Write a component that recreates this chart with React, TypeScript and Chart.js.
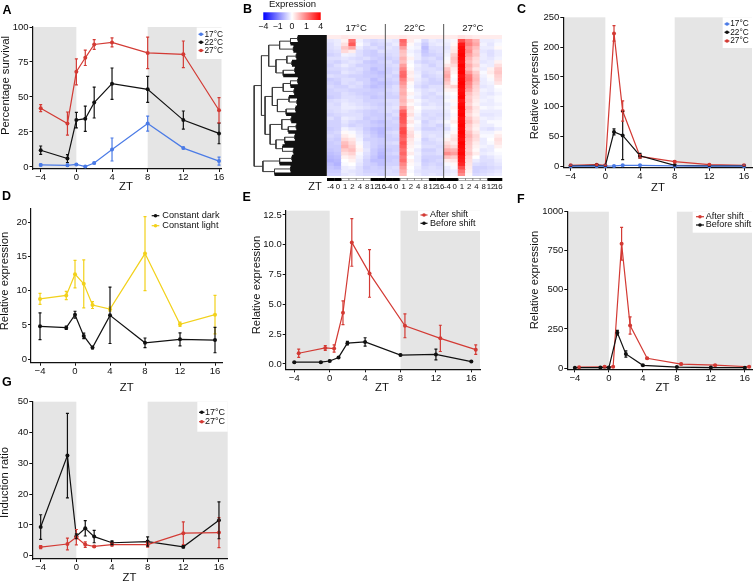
import React, { useEffect, useRef } from "react";
import { Chart, registerables } from "chart.js";
Chart.register(...registerables);

const FONT = "'Liberation Sans', Arial, Helvetica, sans-serif";
Chart.defaults.font.family = FONT;
const RED = "#d33a34";
const BLUE = "#4b7be6";
const BLACK = "#111111";
const YELLOW = "#f2d11b";
const SHADE = "#e5e5e5";

// ---------- shared x values ----------
const ztPoints = [-4, -1, 0, 1, 2, 4, 8, 12, 16];
const ztShifted = [-3.5, -0.5, 0.5, 1.5, 2.5, 4.5, 8.5, 12.5, 16.5];
const xTickValues = [-4, 0, 4, 8, 12, 16];

// ---------- Panel A: percentage survival ----------
const survival17 = [1.5, 1.2, 1.8, 0.3, 2.8, 12.5, 31, 13.5, 4.2];
const survival17Err = [0.8, 0.8, 0.6, 0.4, 0.5, 8.2, 5.4, 0.6, 2.8];
const survival22 = [12, 6, 33.5, 34.5, 46, 59.5, 55.5, 33.5, 24];
const survival22Err = [3, 2.8, 5.5, 9, 11, 11.2, 9.3, 6.5, 7.4];
const survival27 = [42, 31, 68, 78, 87.5, 89, 81.5, 80.5, 40.5];
const survival27Err = [2.5, 8.3, 9.3, 5.5, 3.5, 3.2, 11.3, 9.5, 9];

// ---------- Panel C: relative expression by temperature ----------
const expr17 = [0.5, 0.5, 0.5, 1, 2, 2, 1, 0.5, 0.5];
const expr17Err = [0.3, 0.3, 0.3, 0.5, 0.8, 0.8, 0.5, 0.3, 0.3];
const expr22 = [1, 2, 1, 58, 52, 18, 2, 1, 1];
const expr22Err = [0.5, 1, 0.5, 5, 40.5, 4, 1, 0.5, 0.5];
const expr27 = [2, 3, 2, 223, 93, 17, 8, 3, 2];
const expr27Err = [0.5, 1, 0.5, 13, 17, 3, 2, 1, 0.5];

// ---------- Panel D: constant dark / light ----------
const constDark = [4.8, 4.6, 6.5, 3.4, 1.7, 6.4, 2.4, 2.9, 2.8];
const constDarkErr = [1.95, 0.25, 0.5, 0.4, 0.2, 4.1, 0.7, 0.95, 1.85];
const constLight = [8.8, 9.3, 12.4, 11.0, 7.9, 7.3, 15.4, 5.1, 6.5];
const constLightErr = [0.8, 0.6, 2.0, 3.5, 0.5, 0.3, 5.4, 0.3, 2.8];

// ---------- Panel E: after / before shift ----------
const eAfter = [0.9, 1.35, 1.3, 4.3, 10.2, 7.6, 3.2, 2.15, 1.2];
const eAfterErr = [0.35, 0.2, 0.3, 1.0, 2.0, 2.0, 1.0, 1.1, 0.4];
const eBefore = [0.15, 0.15, 0.25, 0.55, 1.75, 1.85, 0.75, 0.8, 0.2];
const eBeforeErr = [0.05, 0.05, 0.05, 0.05, 0.15, 0.35, 0.05, 0.45, 0.05];

// ---------- Panel F: after / before shift ----------
const fAfter = [5, 8, 8, 795, 272, 62, 25, 18, 8];
const fAfterErr = [2, 3, 3, 105, 55, 5, 5, 3, 2];
const fBefore = [2, 3, 3, 226, 90, 17, 6, 3, 2];
const fBeforeErr = [1, 1, 1, 15, 20, 3, 2, 1, 1];

// ---------- Panel G: induction ratio ----------
const induction17 = [9.3, 32.5, 6.3, 8.9, 6.2, 4.2, 4.6, 2.9, 11.5];
const induction17Err = [4, 13.7, 0.8, 2.5, 2.0, 0.6, 1.5, 0.4, 6];
const induction27 = [2.8, 3.8, 6.0, 3.6, 3.0, 3.6, 3.6, 7.3, 7.5];
const induction27Err = [0.5, 1.9, 2.5, 0.9, 0.3, 0.5, 0.8, 3.7, 4.9];

// ---------- Panel B: heatmap ----------
const heatTemps = ["17°C", "22°C", "27°C"];
const heatZt = ["-4", "0", "1", "2", "4", "8", "12", "16"];
const heatZtValues = [-4, 0, 1, 2, 4, 8, 12, 16];
const colorKeyLabels = ["−4", "−1", "0", "1", "4"];
const heatRows = [
  [0.3,0.3,0.4,0.3,0.3,0.3,0.3,0.3, 0.3,0.3,0.4,0.3,0.3,0.3,0.3,0.3, 0.3,0.3,0.5,0.4,0.3,0.3,0.3,0.3],
  [-0.4,-0.3,0.2,2.2,-0.2,-0.5,-0.6,-0.5, -0.3,-0.4,2.4,0.3,-0.1,-0.6,-0.3,-0.4, -0.2,-0.1,2.8,1.8,1.2,-0.3,-0.3,-0.2],
  [-0.5,-0.3,0.5,2.6,-0.1,-0.4,-0.7,-0.6, -0.5,-0.3,2.2,0.1,-0.3,-0.8,-0.4,-0.3, -0.3,0.1,3.6,2.0,1.4,-0.2,-0.4,-0.1],
  [-0.5,-0.4,0.9,1.4,-0.3,-0.6,-0.5,-0.7, -0.4,-0.5,1.5,-0.1,-0.2,-1.0,-0.5,-0.5, -0.4,0.3,3.8,1.6,1.0,-0.3,-0.3,0.1],
  [-0.6,-0.5,0.6,0.3,-0.5,-0.7,-0.8,-0.5, -0.5,-0.5,1.0,-0.2,-0.4,-0.9,-0.6,-0.5, -0.3,0.4,3.9,1.8,0.8,-0.4,-0.5,-0.3],
  [-0.7,-0.6,-0.2,-0.3,-0.5,-0.7,-0.8,-0.7, -0.6,-0.5,0.9,-0.1,-0.3,-0.8,-0.7,-0.6, -0.2,0.8,4.0,1.5,0.9,-0.3,-0.5,-0.3],
  [-0.5,-0.5,-0.4,-0.5,-0.6,-0.5,-0.7,-0.8, -0.7,-0.6,1.2,0.2,-0.3,-0.6,-0.5,-0.7, -0.1,1.0,3.9,1.2,0.6,-0.3,-0.4,-0.2],
  [-0.6,-0.7,-0.5,-0.4,-0.5,-0.8,-0.9,-0.7, -0.5,-0.7,1.0,-0.1,-0.5,-0.7,-0.6,-0.5, 0.1,0.9,3.8,1.0,0.5,-0.4,-0.3,0.2],
  [-0.7,-0.5,-0.3,-0.5,-0.7,-0.7,-0.8,-0.8, -0.6,-0.5,1.5,0.0,-0.3,-0.5,-0.7,-0.5, 0.4,0.6,4.0,1.3,0.7,-0.2,-0.3,0.5],
  [-0.6,-0.6,-0.5,-0.6,-0.5,-0.7,-1.0,-0.8, -0.7,-0.6,1.9,0.1,-0.4,-0.5,-0.5,-0.6, 0.9,0.3,3.9,1.1,0.4,-0.3,0.2,0.8],
  [-0.7,-0.7,-0.4,-0.5,-0.6,-0.8,-0.9,-1.0, -0.7,-0.5,2.3,0.3,-0.3,-0.6,-0.5,-0.4, 1.2,0.2,4.0,1.6,0.8,-0.1,0.3,0.9],
  [-0.5,-0.6,-0.6,-0.7,-0.7,-0.8,-0.8,-0.9, -0.6,-0.7,2.4,0.2,-0.2,-0.7,-0.6,-0.5, 1.4,0.0,3.8,2.1,1.0,-0.2,0.1,0.7],
  [-0.8,-0.7,-0.5,-0.5,-0.7,-0.7,-1.0,-0.8, -0.7,-0.6,2.0,0.4,-0.3,-0.5,-0.7,-0.6, 1.1,-0.1,3.9,2.2,1.1,-0.3,-0.1,0.6],
  [-0.7,-0.8,-0.5,-0.6,-0.5,-0.7,-0.9,-1.0, -0.8,-0.7,1.7,0.1,-0.4,-0.6,-0.7,-0.7, 0.8,0.1,4.0,1.9,0.9,-0.3,-0.2,0.4],
  [-0.6,-0.7,-0.7,-0.5,-0.6,-0.8,-1.0,-0.9, -0.7,-0.5,1.4,-0.1,-0.5,-0.7,-0.5,-0.5, 0.5,0.7,3.9,1.7,0.7,-0.4,-0.3,0.0],
  [-0.7,-0.6,-0.6,-0.7,-0.7,-0.7,-0.8,-0.8, -0.6,-0.5,1.2,0.0,-0.3,-0.5,-0.4,-0.5, 0.2,0.2,3.8,1.4,0.6,-0.2,-0.3,-0.1],
  [-0.7,-0.7,-0.5,-0.6,-0.7,-0.8,-0.8,-0.7, -0.7,-0.6,1.3,0.2,-0.2,-0.5,-0.6,-0.4, -0.1,0.0,3.9,1.0,0.5,-0.3,-0.4,-0.2],
  [-0.8,-0.7,-0.5,-0.5,-0.6,-0.7,-0.9,-0.8, -0.7,-0.7,1.1,-0.1,-0.3,-0.6,-0.5,-0.6, -0.2,-0.1,4.0,0.8,0.4,-0.3,-0.2,-0.1],
  [-0.6,-0.5,-0.4,-0.5,-0.5,-0.7,-0.7,-0.7, -0.5,-0.5,1.2,0.3,-0.1,-0.4,-0.5,-0.5, -0.1,0.1,3.7,0.9,0.3,-0.2,-0.3,-0.1],
  [-0.5,-0.6,-0.3,-0.4,-0.5,-0.6,-0.7,-0.8, -0.6,-0.5,1.0,0.1,-0.2,-0.5,-0.4,-0.5, -0.3,-0.1,3.9,0.7,0.2,-0.3,-0.3,-0.2],
  [-0.5,-0.5,-0.3,-0.3,-0.4,-0.5,-0.6,-0.7, -0.5,-0.4,1.7,0.4,0.0,-0.3,-0.3,-0.4, -0.2,0.2,4.0,1.0,0.4,-0.1,-0.2,-0.1],
  [-0.6,-0.5,-0.4,-0.5,-0.6,-0.7,-0.8,-0.7, -0.5,-0.6,2.5,0.3,-0.1,-0.5,-0.5,-0.5, -0.3,0.0,3.9,0.8,0.3,-0.3,-0.3,-0.3],
  [-0.7,-0.6,-0.5,-0.5,-0.5,-0.7,-0.8,-0.8, -0.7,-0.5,2.8,0.5,-0.2,-0.6,-0.5,-0.6, -0.4,-0.1,4.0,0.6,0.2,-0.4,-0.4,-0.3],
  [-0.5,-0.7,-0.3,-0.4,-0.5,-0.8,-0.7,-0.8, -0.6,-0.7,2.7,0.2,-0.3,-0.5,-0.6,-0.5, -0.3,0.1,3.8,0.9,0.4,-0.2,-0.3,-0.2],
  [-0.7,-0.7,-0.4,-0.6,-0.7,-0.7,-0.9,-1.0, -0.7,-0.6,2.6,0.4,-0.1,-0.7,-0.5,-0.4, -0.1,0.3,3.9,1.1,0.5,-0.3,-0.1,-0.1],
  [-0.7,-0.7,-0.5,-0.7,-0.6,-0.7,-0.8,-0.9, -0.7,-0.7,2.3,0.1,-0.2,-0.6,-0.5,-0.7, -0.3,0.0,4.0,0.8,0.3,-0.3,-0.3,-0.1],
  [-0.8,-0.7,-0.2,-0.4,-0.5,-0.8,-1.0,-1.1, -0.8,-0.7,2.8,0.3,-0.3,-0.7,-0.7,-0.6, -0.5,-0.1,3.9,0.7,0.2,-0.4,-0.5,-0.3],
  [-0.7,-0.6,0.1,-0.1,-0.4,-0.7,-0.9,-1.1, -0.6,-0.5,2.9,0.5,-0.1,-0.5,-0.5,-0.5, -0.2,0.1,4.0,1.0,0.4,-0.2,-0.2,0.1],
  [-0.6,-0.7,0.3,0.1,-0.3,-0.6,-0.8,-1.0, -0.7,-0.6,2.6,0.6,0.1,-0.5,-0.4,-0.5, -0.1,0.4,3.9,1.2,0.6,-0.1,-0.1,0.3],
  [-0.7,-0.8,0.6,0.4,-0.2,-0.7,-0.7,-0.8, -0.7,-0.7,2.4,0.4,-0.1,-0.7,-0.5,-0.4, 0.2,0.5,3.8,1.0,0.5,-0.3,0.0,0.5],
  [-0.8,-0.7,1.0,0.6,-0.1,-0.5,-0.7,-0.8, -0.6,-0.5,2.7,0.3,-0.2,-0.6,-0.6,-0.5, 0.5,0.3,4.0,0.9,0.3,-0.3,-0.1,0.4],
  [-0.8,-0.8,1.2,0.8,0.1,-0.5,-0.7,-0.9, -0.7,-0.7,2.5,0.2,-0.1,-0.5,-0.5,-0.6, 0.8,0.6,3.9,0.8,0.2,-0.2,-0.3,0.2],
  [-0.9,-0.8,0.8,1.0,0.2,-0.4,-0.8,-1.0, -0.8,-0.7,2.2,0.1,-0.3,-0.7,-0.7,-0.5, 1.3,1.2,3.8,0.7,0.1,-0.4,-0.3,0.0],
  [-1.0,-0.9,0.5,0.7,-0.1,-0.5,-0.8,-1.1, -0.7,-0.6,2.4,0.3,-0.2,-0.6,-0.6,-0.5, 1.8,1.5,3.9,0.9,0.3,-0.3,-0.2,-0.1],
  [-1.1,-1.0,0.2,0.4,-0.2,-0.6,-0.9,-1.2, -0.8,-0.8,2.1,0.0,-0.3,-0.7,-0.7,-0.7, 1.0,0.8,3.7,0.6,0.0,-0.5,-0.4,-0.2],
  [-1.2,-1.1,0.0,0.2,-0.3,-0.7,-1.0,-1.0, -0.8,-0.7,2.3,0.2,-0.3,-0.8,-0.7,-0.6, 0.3,0.4,3.6,0.5,-0.3,-0.5,-0.5,-0.3],
  [-1.0,-1.2,-0.1,0.0,-0.4,-0.7,-0.8,-1.0, -0.7,-0.7,1.9,0.1,-0.2,-0.7,-0.6,-0.7, -0.1,0.1,3.4,0.4,-0.5,-0.6,-0.5,-0.4],
  [-0.9,-1.0,-0.3,-0.2,-0.5,-0.8,-0.7,-0.8, -0.6,-0.5,1.6,0.0,-0.3,-0.6,-0.5,-0.6, -0.3,-0.1,2.8,0.3,-0.7,-0.7,-0.6,-0.5],
  [-0.8,-0.8,-0.3,-0.4,-0.5,-0.7,-0.7,-0.7, -0.5,-0.6,1.3,-0.1,-0.4,-0.5,-0.5,-0.5, -0.4,-0.3,2.2,0.2,-0.7,-0.6,-0.5,-0.4],
  [-0.7,-0.7,-0.4,-0.3,-0.5,-0.6,-0.6,-0.7, -0.5,-0.5,1.1,0.0,-0.3,-0.5,-0.4,-0.5, -0.3,-0.2,1.8,0.1,-0.6,-0.5,-0.4,-0.3],
];

// dendrogram: [mergeHeight, left, right], leaves are row indices
type TreeNode = number | [number, TreeNode, TreeNode];
const dendroTree: TreeNode = [10,
  [9,
    [8,
      [6.5, [5, [4, 0, 1], 2], [4.6, 3, 4]],
      [7, [5.5, [4.2, 5, 6], [4.8, 7, 8]], [6, [4.4, 9, 10], 11]],
    ],
    [8.5,
      [7.5,
        [6, [5, [4, 12, 13], 14], [4.5, 15, 16]],
        [6.8, [5.2, 17, [4.1, 18, 19]], [5.6, [4.3, 20, 21], 22]],
      ],
      [7.8,
        [6.2, [4.9, 23, 24], [5.3, [4.2, 25, 26], 27]],
        [7, [5.8, [4.4, 28, 29], 30], [6.1, 31, [4.6, 32, 33]]],
      ],
    ],
  ],
  [8.8,
    [6.5, [4.8, 34, 35], 36],
    [7.2, [5, 37, 38], 39],
  ],
];

// ---------- helpers ----------
function drawText(ctx: CanvasRenderingContext2D, s: string, x: number, y: number, size: number,
  align: CanvasTextAlign = "center", rot = 0, weight = "normal") {
  ctx.save();
  ctx.font = `${weight} ${size}px ${FONT}`;
  ctx.fillStyle = "#111";
  ctx.textAlign = align;
  ctx.textBaseline = "middle";
  ctx.translate(x, y);
  if (rot) ctx.rotate(rot);
  ctx.fillText(s, 0, 0);
  ctx.restore();
}

type Series = { label: string; x: number[]; y: number[]; err: number[]; color: string };
type Panel = {
  box: number[]; plot: number[]; xr: number[]; yr: number[]; yTicks: number[]; yDec: number;
  shade: boolean; series: Series[]; legendOrder: number[];
  legend: { box: number[] | null; mx: number[]; tx: number; ys: number[]; size: number };
  yTitle: [string, number, number]; xTitle: [number, number];
};

const TICK_SIZE = 9.5;
const TITLE_SIZE = 11.3;

function panelPlugin(p: Panel) {
  const [bl, bt] = p.box;
  return {
    id: "panelDecor",
    beforeDraw(chart: any) {
      if (!p.shade) return;
      const { ctx, chartArea: a, scales } = chart;
      const x = scales.x;
      const x0 = x.getPixelForValue(0);
      const x8 = x.getPixelForValue(8);
      ctx.save();
      ctx.fillStyle = SHADE;
      ctx.fillRect(a.left, a.top, x0 - a.left, a.bottom - a.top);
      ctx.fillRect(x8, a.top, a.right - x8, a.bottom - a.top);
      ctx.restore();
    },
    afterDatasetsDraw(chart: any) {
      const { ctx, scales } = chart;
      const xs = scales.x, ys = scales.y;
      ctx.save();
      p.series.forEach((s) => {
        ctx.strokeStyle = s.color;
        ctx.lineWidth = 1.2;
        s.x.forEach((xv, i) => {
          const px = xs.getPixelForValue(xv);
          const top = ys.getPixelForValue(s.y[i] + s.err[i]);
          const bot = ys.getPixelForValue(s.y[i] - s.err[i]);
          ctx.beginPath();
          ctx.moveTo(px, top); ctx.lineTo(px, bot);
          ctx.moveTo(px - 1.5, top); ctx.lineTo(px + 1.5, top);
          ctx.moveTo(px - 1.5, bot); ctx.lineTo(px + 1.5, bot);
          ctx.stroke();
        });
      });
      // legend
      const L = p.legend;
      if (L.box) {
        ctx.fillStyle = "#fff";
        ctx.fillRect(L.box[0] - bl, L.box[1] - bt, L.box[2] - L.box[0], L.box[3] - L.box[1]);
      }
      p.legendOrder.forEach((si, k) => {
        const s = p.series[si];
        const y = L.ys[k] - bt;
        ctx.strokeStyle = s.color;
        ctx.fillStyle = s.color;
        ctx.lineWidth = 1.2;
        ctx.beginPath();
        ctx.moveTo(L.mx[0] - bl, y); ctx.lineTo(L.mx[1] - bl, y);
        ctx.stroke();
        ctx.beginPath();
        ctx.arc((L.mx[0] + L.mx[1]) / 2 - bl, y, 1.8, 0, Math.PI * 2);
        ctx.fill();
        drawText(ctx, s.label, L.tx - bl, y, L.size, "left");
      });
      ctx.restore();
    },
    afterDraw(chart: any) {
      const ctx = chart.ctx;
      drawText(ctx, p.yTitle[0], p.yTitle[1] - bl, p.yTitle[2] - bt, TITLE_SIZE, "center", -Math.PI / 2);
      drawText(ctx, "ZT", p.xTitle[0] - bl, p.xTitle[1] - bt, TITLE_SIZE, "center");
    },
  };
}

function lineConfig(p: Panel) {
  const [bl, bt, bw, bh] = p.box;
  const [pl, pt, pr, pb] = p.plot;
  const axisCommon = {
    grid: { display: true, drawOnChartArea: false, drawTicks: true, tickLength: 3, color: "#111", lineWidth: 1 },
    border: { display: true, color: "#111", width: 1.2 },
  };
  return {
    type: "scatter",
    data: {
      datasets: p.series.map((s) => ({
        label: s.label,
        data: s.x.map((x, i) => ({ x, y: s.y[i] })),
        showLine: true,
        borderColor: s.color,
        backgroundColor: s.color,
        borderWidth: 1.2,
        pointRadius: 2,
        pointBorderWidth: 0,
        pointBackgroundColor: s.color,
        clip: false,
      })),
    },
    options: {
      animation: false,
      responsive: false,
      devicePixelRatio: 1,
      events: [],
      layout: { padding: { top: pt - bt, right: bl + bw - pr, left: 0, bottom: 0 } },
      plugins: { legend: { display: false }, tooltip: { enabled: false } },
      scales: {
        x: {
          type: "linear",
          min: p.xr[0],
          max: p.xr[1],
          ...axisCommon,
          afterBuildTicks: (s: any) => { s.ticks = xTickValues.map((v) => ({ value: v })); },
          afterFit: (s: any) => { s.height = bt + bh - pb; s.paddingLeft = 0; s.paddingRight = 0; },
          ticks: {
            autoSkip: false, maxRotation: 0, padding: 0, color: "#111",
            font: { size: TICK_SIZE, family: FONT },
            callback: (v: number) => (v < 0 ? "−" + Math.abs(v) : String(v)),
          },
        },
        y: {
          type: "linear",
          min: p.yr[0],
          max: p.yr[1],
          ...axisCommon,
          afterBuildTicks: (s: any) => { s.ticks = p.yTicks.map((v) => ({ value: v })); },
          afterFit: (s: any) => { s.width = pl - bl; s.paddingTop = 0; s.paddingBottom = 0; },
          ticks: {
            autoSkip: false, padding: 1, color: "#111",
            font: { size: TICK_SIZE, family: FONT },
            callback: (v: number) => (p.yDec ? v.toFixed(p.yDec) : String(v)),
          },
        },
      },
    },
    plugins: [panelPlugin(p)],
  };
}

// ---------- panel layouts ----------
const PANEL_A: Panel = {
  box: [0, 0, 236, 194], plot: [32.5, 27, 221.5, 169],
  xr: [-4.92, 16.28], yr: [-1.43, 100], yTicks: [0, 25, 50, 75, 100], yDec: 0, shade: true,
  series: [
    { label: "17°C", x: ztPoints, y: survival17, err: survival17Err, color: BLUE },
    { label: "22°C", x: ztPoints, y: survival22, err: survival22Err, color: BLACK },
    { label: "27°C", x: ztPoints, y: survival27, err: survival27Err, color: RED },
  ],
  legendOrder: [0, 1, 2],
  legend: { box: [196.7, 27.5, 222, 59], mx: [198.5, 203.5], tx: 204.5, ys: [34.3, 42.3, 50.5], size: 8.3 },
  yTitle: ["Percentage survival", 5.5, 85.5], xTitle: [126, 187],
};

const PANEL_C: Panel = {
  box: [505, 0, 251, 194], plot: [563.3, 17.3, 752, 167.8],
  xr: [-4.85, 16.92], yr: [-2.2, 250], yTicks: [0, 50, 100, 150, 200, 250], yDec: 0, shade: true,
  series: [
    { label: "17°C", x: ztPoints, y: expr17, err: expr17Err, color: BLUE },
    { label: "22°C", x: ztPoints, y: expr22, err: expr22Err, color: BLACK },
    { label: "27°C", x: ztPoints, y: expr27, err: expr27Err, color: RED },
  ],
  legendOrder: [0, 1, 2],
  legend: { box: [722.7, 17.3, 752, 48], mx: [724.5, 729.5], tx: 730.2, ys: [24, 32.3, 41], size: 8.3 },
  yTitle: ["Relative expression", 534.7, 90], xTitle: [658, 188],
};

const PANEL_D: Panel = {
  box: [0, 194, 236, 198], plot: [31, 209, 222.7, 362.7],
  xr: [-5.03, 16.88], yr: [-0.5, 21.9], yTicks: [0, 5, 10, 15, 20], yDec: 0, shade: false,
  series: [
    { label: "Constant light", x: ztPoints, y: constLight, err: constLightErr, color: YELLOW },
    { label: "Constant dark", x: ztPoints, y: constDark, err: constDarkErr, color: BLACK },
  ],
  legendOrder: [1, 0],
  legend: { box: null, mx: [151.7, 159.3], tx: 162.3, ys: [215.7, 225.7], size: 9.2 },
  yTitle: ["Relative expression", 5, 281], xTitle: [126.7, 387.5],
};

const PANEL_E: Panel = {
  box: [240, 194, 250, 198], plot: [285.7, 210.7, 480, 369.3],
  xr: [-4.97, 16.98], yr: [-0.445, 12.86], yTicks: [0, 2.5, 5, 7.5, 10, 12.5], yDec: 1, shade: true,
  series: [
    { label: "Before shift", x: ztPoints, y: eBefore, err: eBeforeErr, color: BLACK },
    { label: "After shift", x: ztShifted, y: eAfter, err: eAfterErr, color: RED },
  ],
  legendOrder: [1, 0],
  legend: { box: [418, 210.7, 480, 231], mx: [420.5, 427.5], tx: 430, ys: [215, 223.3], size: 9 },
  yTitle: ["Relative expression", 257, 285], xTitle: [382, 388],
};

const PANEL_F: Panel = {
  box: [505, 194, 251, 198], plot: [567.3, 211.7, 756, 369.3],
  xr: [-4.89, 16.84], yr: [-8.3, 1000], yTicks: [0, 250, 500, 750, 1000], yDec: 0, shade: true,
  series: [
    { label: "Before shift", x: ztPoints, y: fBefore, err: fBeforeErr, color: BLACK },
    { label: "After shift", x: ztShifted, y: fAfter, err: fAfterErr, color: RED },
  ],
  legendOrder: [1, 0],
  legend: { box: [692.7, 211.7, 756, 232.7], mx: [696, 704], tx: 705.7, ys: [216.7, 225], size: 9 },
  yTitle: ["Relative expression", 534.7, 280], xTitle: [662.5, 388],
};

const PANEL_G: Panel = {
  box: [0, 392, 236, 189], plot: [32.3, 401.7, 227.7, 559],
  xr: [-4.94, 16.98], yr: [-1.07, 50], yTicks: [0, 10, 20, 30, 40, 50], yDec: 0, shade: true,
  series: [
    { label: "27°C", x: ztPoints, y: induction27, err: induction27Err, color: RED },
    { label: "17°C", x: ztPoints, y: induction17, err: induction17Err, color: BLACK },
  ],
  legendOrder: [1, 0],
  legend: { box: [197.3, 401.7, 227.7, 431.7], mx: [199, 204.5], tx: 205, ys: [412.3, 421.7], size: 9 },
  yTitle: ["Induction ratio", 5, 482.5], xTitle: [129.5, 577.5],
};

// ---------- heatmap ----------
const HEAT_BOX = [240, 0, 265, 195];
const HEAT_AREA = { l: 327, r: 502, t: 35, b: 176 };

function heatColor(v: number) {
  const t = Math.max(-1, Math.min(1, v / 4));
  if (t < 0) {
    const k = Math.round(255 * (1 + t));
    return `rgb(${k},${k},255)`;
  }
  const k = Math.round(255 * (1 - t));
  return `rgb(255,${k},${k})`;
}

const heatPlugin = {
  id: "heatDecor",
  afterDraw(chart: any) {
    const { ctx, chartArea: a, scales } = chart;
    const bl = HEAT_BOX[0], bt = HEAT_BOX[1];
    const xs = scales.x;
    const n = heatZt.length;
    const colW = (a.right - a.left) / (n * heatTemps.length);
    ctx.save();
    // colour key
    const kx0 = 263.3 - bl, kx1 = 320.7 - bl, ky0 = 12.3 - bt, ky1 = 20 - bt;
    const g = ctx.createLinearGradient(kx0, 0, kx1, 0);
    g.addColorStop(0, heatColor(-4));
    g.addColorStop(0.5, heatColor(0));
    g.addColorStop(1, heatColor(4));
    ctx.fillStyle = g;
    ctx.fillRect(kx0, ky0, kx1 - kx0, ky1 - ky0);
    drawText(ctx, "Expression", 292.5 - bl, 4.8 - bt, 9.5);
    colorKeyLabels.forEach((s, i) => {
      const x = kx0 + ((kx1 - kx0) * i) / (colorKeyLabels.length - 1);
      drawText(ctx, s, x, 26.3 - bt, 8.8);
    });
    // group separators & headers
    ctx.strokeStyle = "#555";
    ctx.lineWidth = 1;
    heatTemps.forEach((t, gi) => {
      const c0 = xs.getPixelForValue(gi * n);
      const c1 = xs.getPixelForValue(gi * n + n - 1);
      drawText(ctx, t, (c0 + c1) / 2, 28.5 - bt, 9.5);
      if (gi > 0) {
        const xb = (xs.getPixelForValue(gi * n - 1) + c0) / 2;
        ctx.beginPath();
        ctx.moveTo(xb, 24 - bt);
        ctx.lineTo(xb, a.bottom + 2);
        ctx.stroke();
      }
      // light / dark bar and ZT labels
      heatZtValues.forEach((z, zi) => {
        const cx = xs.getPixelForValue(gi * n + zi);
        const dark = z <= 0 || z >= 12;
        if (dark) {
          ctx.fillStyle = "#000";
          ctx.fillRect(cx - colW / 2, a.bottom + 2, colW + 0.3, 3);
        } else {
          ctx.strokeStyle = "#888";
          ctx.lineWidth = 0.7;
          ctx.strokeRect(cx - colW / 2, a.bottom + 2.5, colW, 2);
          ctx.strokeStyle = "#555";
          ctx.lineWidth = 1;
        }
        drawText(ctx, heatZt[zi], cx, a.bottom + 10.5, 7.8);
      });
    });
    drawText(ctx, "ZT", 315 - bl, 186.5 - bt, 11);
    ctx.restore();
  },
};

function heatConfig() {
  const [bl, bt, bw, bh] = HEAT_BOX;
  const labels: string[] = [];
  heatTemps.forEach((t) => heatZt.forEach((z) => labels.push(`${t} ${z}`)));
  return {
    type: "bar",
    data: {
      labels,
      datasets: heatRows.map((row, r) => ({
        data: row.map(() => [r, r + 1]),
        backgroundColor: row.map(heatColor),
        borderWidth: 0,
        barPercentage: 1,
        categoryPercentage: 1,
        grouped: false,
        inflateAmount: 0.5,
      })),
    },
    options: {
      animation: false,
      responsive: false,
      devicePixelRatio: 1,
      events: [],
      layout: { padding: { left: HEAT_AREA.l - bl, right: bl + bw - HEAT_AREA.r, top: HEAT_AREA.t - bt, bottom: bt + bh - HEAT_AREA.b } },
      plugins: { legend: { display: false }, tooltip: { enabled: false } },
      scales: {
        x: { display: false },
        y: { display: false, min: 0, max: heatRows.length, reverse: true },
      },
    },
    plugins: [heatPlugin],
  };
}

// ---------- dendrogram ----------
const DENDRO_BOX = [248, 30, 80, 150];
const DENDRO_AREA = { l: 252, r: 326.8, t: 35, b: 176 };

type Pt = { x: number | null; y: number | null };
function layoutTree(n: TreeNode, inner: Pt[], leaf: Pt[]): { h: number; y: number } {
  if (typeof n === "number") return { h: 0, y: n + 0.5 };
  const [h, a, b] = n;
  const A = layoutTree(a, inner, leaf);
  const B = layoutTree(b, inner, leaf);
  [A, B].forEach((c) => {
    const target = c.h === 0 ? leaf : inner;
    target.push({ x: c.h, y: c.y }, { x: h, y: c.y }, { x: null, y: null });
  });
  inner.push({ x: h, y: A.y }, { x: h, y: B.y }, { x: null, y: null });
  return { h, y: (A.y + B.y) / 2 };
}

function dendroConfig() {
  const inner: Pt[] = [];
  const leaf: Pt[] = [];
  layoutTree(dendroTree, inner, leaf);
  const [bl, bt, bw, bh] = DENDRO_BOX;
  return {
    type: "scatter",
    data: {
      datasets: [
        { data: leaf, showLine: true, borderColor: "#111", borderWidth: 3.6, pointRadius: 0, spanGaps: false, clip: false },
        { data: inner, showLine: true, borderColor: "#3a3a3a", borderWidth: 1, pointRadius: 0, spanGaps: false, clip: false },
      ],
    },
    options: {
      animation: false,
      responsive: false,
      devicePixelRatio: 1,
      events: [],
      layout: { padding: { left: DENDRO_AREA.l - bl, right: bl + bw - DENDRO_AREA.r, top: DENDRO_AREA.t - bt, bottom: bt + bh - DENDRO_AREA.b } },
      plugins: { legend: { display: false }, tooltip: { enabled: false } },
      scales: {
        x: { type: "linear", display: false, min: 0, max: 10.3, reverse: true },
        y: { type: "linear", display: false, min: 0, max: heatRows.length, reverse: true },
      },
    },
  };
}

// ---------- React ----------
function ChartCanvas({ box, make }: { box: number[]; make: () => any }) {
  const ref = useRef<HTMLCanvasElement>(null);
  useEffect(() => {
    const chart = new Chart(ref.current as HTMLCanvasElement, make());
    return () => chart.destroy();
  }, []);
  const [left, top, width, height] = box;
  return (
    <canvas
      ref={ref}
      width={width}
      height={height}
      style={{ position: "absolute", left, top, width, height }}
    />
  );
}

const LETTERS: [string, number, number][] = [
  ["A", 2.5, 5.5], ["B", 243, 4.5], ["C", 517, 5], ["D", 2, 192],
  ["E", 242.5, 193], ["F", 517, 194.5], ["G", 2, 378],
];

export default function App() {
  const panels = [PANEL_A, PANEL_C, PANEL_D, PANEL_E, PANEL_F, PANEL_G];
  return (
    <div style={{ position: "absolute", left: 0, top: 0, width: 756, height: 581, background: "#fff", overflow: "hidden", fontFamily: FONT }}>
      {panels.map((p, i) => (
        <ChartCanvas key={i} box={p.box} make={() => lineConfig(p)} />
      ))}
      <ChartCanvas box={HEAT_BOX} make={heatConfig} />
      <ChartCanvas box={DENDRO_BOX} make={dendroConfig} />
      {LETTERS.map(([s, x, y]) => (
        <div key={s} style={{ position: "absolute", left: x, top: y - 1.6, font: `bold 12.5px ${FONT}`, lineHeight: "12.5px", color: "#000" }}>
          {s}
        </div>
      ))}
    </div>
  );
}
